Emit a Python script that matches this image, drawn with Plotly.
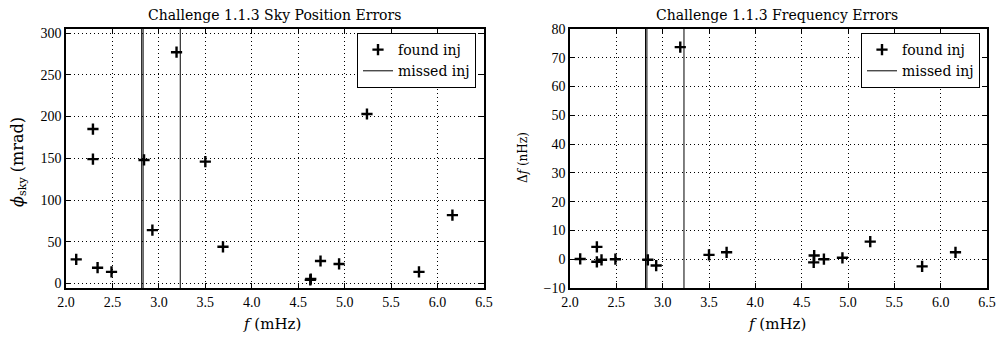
import plotly.graph_objects as go

# ---- data ----
freq_found = [2.11, 2.29, 2.29, 2.34, 2.49, 2.84, 2.93, 3.19, 3.50, 3.69,
              4.63, 4.635, 4.74, 4.94, 5.24, 5.80, 6.16]
sky_err = [29, 185, 149, 19, 14, 148, 64, 277, 146, 44,
           4.4, 5.5, 27, 23.5, 203, 14, 82]
freq_err = [0.1, 4.3, -0.9, -0.2, 0.0, -0.2, -2.2, 73.7, 1.5, 2.4,
            -1.1, 1.3, 0.0, 0.5, 6.1, -2.5, 2.4]
freq_missed = [2.815, 2.83, 3.23]

x_ticks = [2.0, 2.5, 3.0, 3.5, 4.0, 4.5, 5.0, 5.5, 6.0, 6.5]
sky_ticks = [0, 50, 100, 150, 200, 250, 300]
df_ticks = [-10, 0, 10, 20, 30, 40, 50, 60, 70, 80]

x_range = [2.0, 6.5]
sky_range = [-5.3, 304.8]
df_range = [-10, 80]

W, H = 1001, 342
TICKFONT = dict(family="Liberation Serif", size=14, color="black")
TXTFONT = "DejaVu Serif"


def vlines(xs, yr):
    xx, yy = [], []
    for x in xs:
        xx += [x, x, None]
        yy += [yr[0], yr[1], None]
    return xx, yy


MARKER = dict(symbol="cross-thin", size=8, color="black",
              line=dict(color="black", width=2.4))

fig = go.Figure()

# left panel
lx, ly = vlines(freq_missed, sky_range)
fig.add_trace(go.Scatter(x=lx, y=ly, mode="lines", name="missed inj",
                         line=dict(color="black", width=1),
                         xaxis="x", yaxis="y", legend="legend"))
fig.add_trace(go.Scatter(x=freq_found, y=sky_err, mode="markers", name="found inj",
                         marker=MARKER, xaxis="x", yaxis="y", legend="legend"))

# right panel
rx, ry = vlines(freq_missed, df_range)
fig.add_trace(go.Scatter(x=rx, y=ry, mode="lines", name="missed inj",
                         line=dict(color="black", width=1),
                         xaxis="x2", yaxis="y2", legend="legend2"))
fig.add_trace(go.Scatter(x=freq_found, y=freq_err, mode="markers", name="found inj",
                         marker=MARKER, xaxis="x2", yaxis="y2", legend="legend2"))

axis_common = dict(showline=True, linecolor="black", linewidth=1.5, mirror="ticks",
                   ticks="inside", ticklen=5, tickcolor="black", tickwidth=1,
                   showgrid=True, gridcolor="black", gridwidth=1, griddash="1px,3px",
                   zeroline=False, tickfont=TICKFONT, automargin=False)

yd = [1 - 288 / H, 1 - 29 / H]
LEG = dict(yanchor="top", y=1 - 33 / H, xanchor="right",
           bgcolor="white", bordercolor="black", borderwidth=1,
           font=dict(family=TXTFONT, size=14, color="black"),
           traceorder="reversed", tracegroupgap=0)
fig.update_layout(
    width=W, height=H, margin=dict(l=0, r=0, t=0, b=0, autoexpand=False),
    plot_bgcolor="white", paper_bgcolor="white", showlegend=True,
    xaxis=dict(domain=[66 / W, 484 / W], range=x_range, tickvals=x_ticks,
               tickformat=".1f", anchor="y", **axis_common),
    yaxis=dict(domain=yd, range=sky_range, tickvals=sky_ticks, anchor="x",
               **axis_common),
    xaxis2=dict(domain=[570 / W, 987 / W], range=x_range, tickvals=x_ticks,
                tickformat=".1f", anchor="y2", **axis_common),
    yaxis2=dict(domain=yd, range=df_range, tickvals=df_ticks, anchor="x2",
                **axis_common),
    legend=dict(x=476 / W, **LEG),
    legend2=dict(x=980 / W, **LEG),
)

ann = [
    dict(text="Challenge 1.1.3 Sky Position Errors", x=274 / W, y=1 - 15 / H,
         font=dict(family=TXTFONT, size=14)),
    dict(text="Challenge 1.1.3 Frequency Errors", x=777 / W, y=1 - 15 / H,
         font=dict(family=TXTFONT, size=14)),
    dict(text="<i>f</i> (mHz)", x=272 / W, y=1 - 324 / H,
         font=dict(family=TXTFONT, size=15)),
    dict(text="<i>f</i> (mHz)", x=777 / W, y=1 - 324 / H,
         font=dict(family=TXTFONT, size=15)),
    dict(text="<i>ϕ</i><sub>sky</sub> (mrad)", x=19 / W, y=1 - 162 / H, textangle=-90,
         font=dict(family=TXTFONT, size=16)),
    dict(text="Δ<i>f</i> (nHz)", x=523 / W, y=1 - 158 / H, textangle=-90,
         font=dict(family=TXTFONT, size=12)),
]
for a in ann:
    a.update(xref="paper", yref="paper", showarrow=False,
             xanchor="center", yanchor="middle")
    a["font"]["color"] = "black"
fig.update_layout(annotations=ann)

fig.write_html("out.html", config={"displayModeBar": False},
               post_script="document.body.style.margin='0';"
                           "document.body.style.overflow='hidden';")
